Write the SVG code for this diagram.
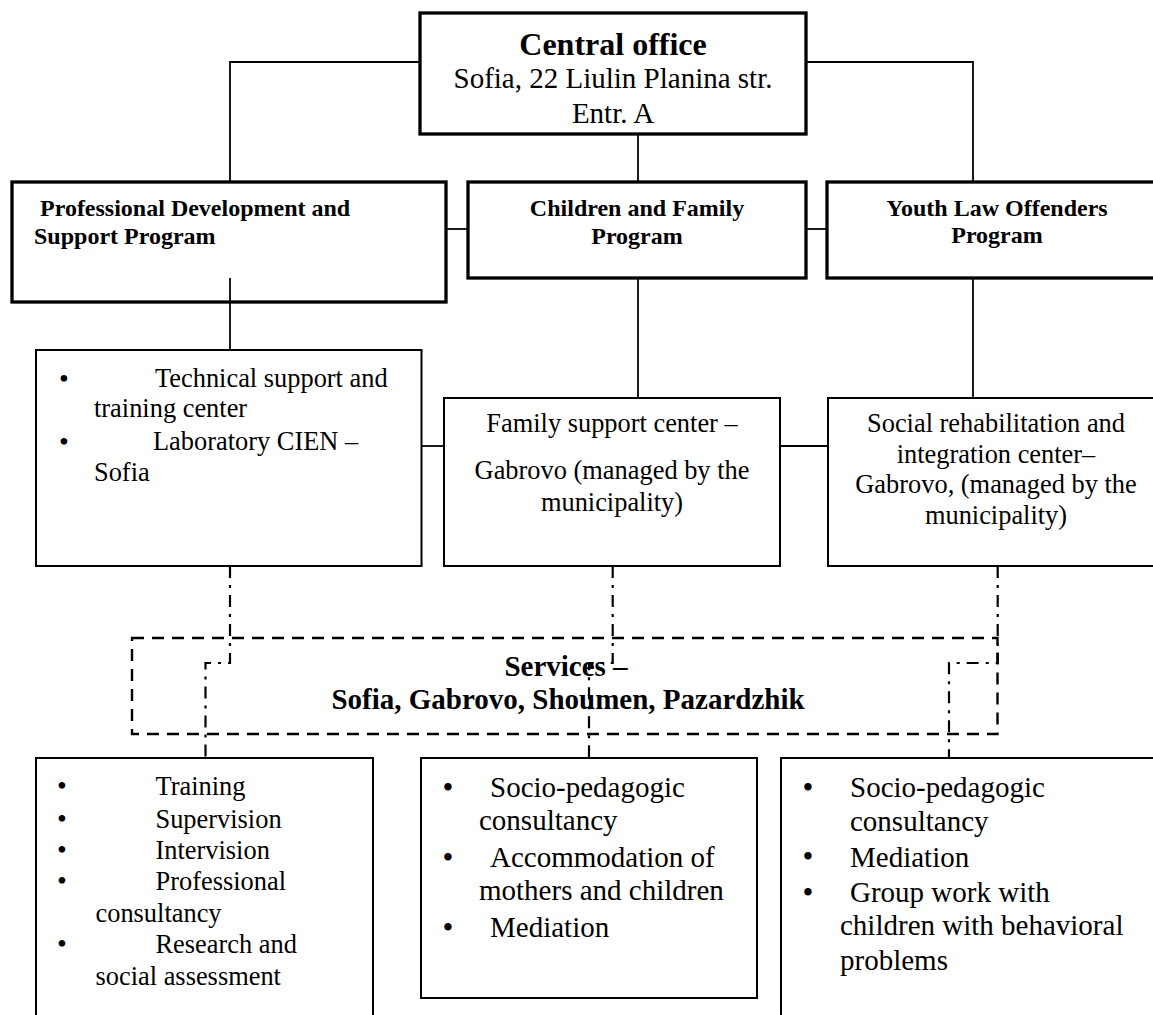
<svg xmlns="http://www.w3.org/2000/svg" width="1153" height="1015" viewBox="0 0 1153 1015">
<style>
text{font-family:"Liberation Serif","Times New Roman",serif;fill:#000}
.b{font-weight:bold}
.thick{fill:#fff;stroke:#000;stroke-width:3.3}
.thin{fill:#fff;stroke:#000;stroke-width:2}
.con{fill:none;stroke:#000;stroke-width:1.8}
.dd{fill:none;stroke:#000;stroke-width:2.2;stroke-dasharray:12 7 3 7}
.dash{fill:none;stroke:#000;stroke-width:2.4;stroke-dasharray:12 8}
.m{text-anchor:middle}
.f26{font-size:26.4px}
.f29{font-size:29px}
.bul{font-size:28px;text-anchor:middle}
.bul2{font-size:31px;text-anchor:middle}
</style>
<rect width="1153" height="1015" fill="#fff"/>
<g id="connectors">
<path class="con" d="M420 62H230V182"/>
<path class="con" d="M806 62H973V182"/>
<path class="con" d="M638 134V182"/>
<path class="con" d="M446 229H468"/>
<path class="con" d="M806 229H827"/>
<path class="con" d="M230 278V350"/>
<path class="con" d="M638 278V398"/>
<path class="con" d="M973 278V398"/>
<path class="con" d="M421.5 446H444"/>
<path class="con" d="M780 446H828"/>
</g>
<g id="central">
<rect class="thick" x="420" y="13" width="386" height="121"/>
<text class="b m" x="613" y="55" font-size="32">Central office</text>
<text class="m" x="613" y="88" font-size="29">Sofia, 22 Liulin Planina str.</text>
<text class="m" x="613" y="123" font-size="29">Entr. A</text>
</g>
<g id="pd-program">
<rect class="thick" x="12" y="182" width="434" height="120"/>
<text class="b" x="40" y="216" font-size="24">Professional Development and</text>
<text class="b" x="34" y="244" font-size="24">Support Program</text>
</g>
<path class="con" d="M230 278V302"/>
<g id="cf-program">
<rect class="thick" x="468" y="182" width="338" height="96"/>
<text class="b m" x="637" y="216" font-size="24">Children and Family</text>
<text class="b m" x="637" y="244" font-size="24">Program</text>
</g>
<g id="ylo-program">
<rect class="thick" x="827" y="182" width="340" height="96"/>
<text class="b m" x="997" y="216" font-size="24">Youth Law Offenders</text>
<text class="b m" x="997" y="243" font-size="24">Program</text>
</g>
<g id="tech-center">
<rect class="thin" x="36" y="350" width="385.5" height="216"/>
<text class="bul" x="64" y="388">•</text>
<text class="f26" x="155" y="387">Technical support and</text>
<text class="f26" x="94" y="417">training center</text>
<text class="bul" x="64" y="451">•</text>
<text class="f26" x="153" y="450">Laboratory CIEN –</text>
<text class="f26" x="94" y="481">Sofia</text>
</g>
<g id="family-center">
<rect class="thin" x="444" y="398" width="336" height="168"/>
<text class="m f26" x="612" y="432">Family support center –</text>
<text class="m f26" x="612" y="479">Gabrovo (managed by the</text>
<text class="m f26" x="612" y="511">municipality)</text>
</g>
<g id="social-center">
<rect class="thin" x="828" y="398" width="340" height="168"/>
<text class="m f26" x="996" y="432">Social rehabilitation and</text>
<text class="m f26" x="996" y="463">integration center–</text>
<text class="m f26" x="996" y="493">Gabrovo, (managed by the</text>
<text class="m f26" x="996" y="524">municipality)</text>
</g>
<g id="services">
<rect class="dash" x="132" y="638" width="865.5" height="96"/>
<text class="b m" x="566" y="676" font-size="29">Services –</text>
<text class="b m" x="568" y="709" font-size="29">Sofia, Gabrovo, Shoumen, Pazardzhik</text>
</g>
<g id="dashdot-connectors">
<path class="dd" d="M230 566V663H205.5V758"/>
<path class="dd" d="M612.7 566V663H589V758"/>
<path class="dd" d="M997.7 566V663H949V758"/>
</g>
<g id="pd-services">
<rect class="thin" x="36" y="758" width="337" height="280"/>
<text class="bul" x="62" y="795">•</text>
<text class="f26" x="155.5" y="795">Training</text>
<text class="bul" x="62" y="828">•</text>
<text class="f26" x="155.5" y="828">Supervision</text>
<text class="bul" x="62" y="859">•</text>
<text class="f26" x="155.5" y="859">Intervision</text>
<text class="bul" x="62" y="890">•</text>
<text class="f26" x="155.5" y="890">Professional</text>
<text class="f26" x="95.5" y="922">consultancy</text>
<text class="bul" x="62" y="953">•</text>
<text class="f26" x="155.5" y="953">Research and</text>
<text class="f26" x="95.5" y="985">social assessment</text>
</g>
<g id="cf-services">
<rect class="thin" x="421" y="758" width="336" height="240"/>
<text class="bul2" x="448" y="798">•</text>
<text class="f29" x="490" y="797">Socio-pedagogic</text>
<text class="f29" x="479" y="830">consultancy</text>
<text class="bul2" x="448" y="868">•</text>
<text class="f29" x="490" y="867">Accommodation of</text>
<text class="f29" x="479" y="900">mothers and children</text>
<text class="bul2" x="448" y="938">•</text>
<text class="f29" x="490" y="937">Mediation</text>
</g>
<g id="ylo-services">
<rect class="thin" x="781" y="758" width="390" height="280"/>
<text class="bul2" x="808" y="798">•</text>
<text class="f29" x="850" y="797">Socio-pedagogic</text>
<text class="f29" x="850" y="831">consultancy</text>
<text class="bul2" x="808" y="867">•</text>
<text class="f29" x="850" y="867">Mediation</text>
<text class="bul2" x="808" y="903">•</text>
<text class="f29" x="850" y="902">Group work with</text>
<text class="f29" x="840" y="935">children with behavioral</text>
<text class="f29" x="840" y="970">problems</text>
</g>
</svg>
